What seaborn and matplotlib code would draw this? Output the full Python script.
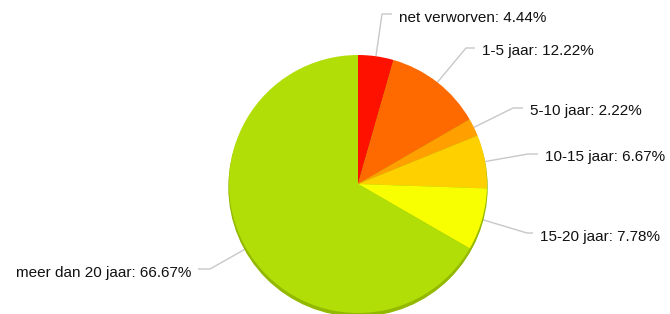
import numpy as np
import matplotlib
matplotlib.use("Agg")
import matplotlib.pyplot as plt
import seaborn as sns

categories = ["net verworven", "1-5 jaar", "5-10 jaar", "10-15 jaar", "15-20 jaar", "meer dan 20 jaar"]
values = [4.44, 12.22, 2.22, 6.67, 7.78, 66.67]
colors = ["#FF1100", "#FF6A00", "#FFA000", "#FFD000", "#F8FF00", "#B2DE08"]

sns.set_theme(style="white")
plt.rcParams["font.family"] = ["Liberation Sans", "DejaVu Sans"]

W, H = 670, 314
fig = plt.figure(figsize=(W / 100, H / 100), dpi=100)
ax = fig.add_axes([0, 0, 1, 1])

cx, cy, r = 358, H - 184, 129

# shadow
shadow = plt.Circle((cx, cy - 3), r, color="#93B800", zorder=1)
ax.add_patch(shadow)

wedges, _ = ax.pie(values, colors=colors, startangle=90, counterclock=False,
                   center=(cx, cy), radius=r, frame=True,
                   wedgeprops=dict(linewidth=0, zorder=2))
ax.set_xlim(0, W)
ax.set_ylim(0, H)
ax.set_aspect("equal")
ax.axis("off")

# label layout: (elbow x, elbow y, text x, side)
layout = [
    (382, 14, 399, "right"),
    (466, 48, 482, "right"),
    (513, 108, 530, "right"),
    (528, 154, 545, "right"),
    (527, 233, 540, "right"),
    (210, 269, 191, "left"),
]

for w, cat, v, (ex, ey, tx, side) in zip(wedges, categories, values, layout):
    ang = np.deg2rad((w.theta1 + w.theta2) / 2)
    ax0 = cx + r * np.cos(ang)
    ay0 = cy + r * np.sin(ang)
    eyd = H - ey
    if side == "right":
        hx = tx - 7
        ha = "left"
    else:
        hx = tx + 7
        ha = "right"
    ax.plot([ax0, ex, hx], [ay0, eyd, eyd], color="#C8C8C8", lw=1.0, zorder=0,
            solid_capstyle="butt")
    ax.text(tx, eyd - 3.5, f"{cat}: {v:.2f}%", ha=ha, va="center", fontsize=11,
            color="#111111")

fig.savefig("out.png", dpi=100)
